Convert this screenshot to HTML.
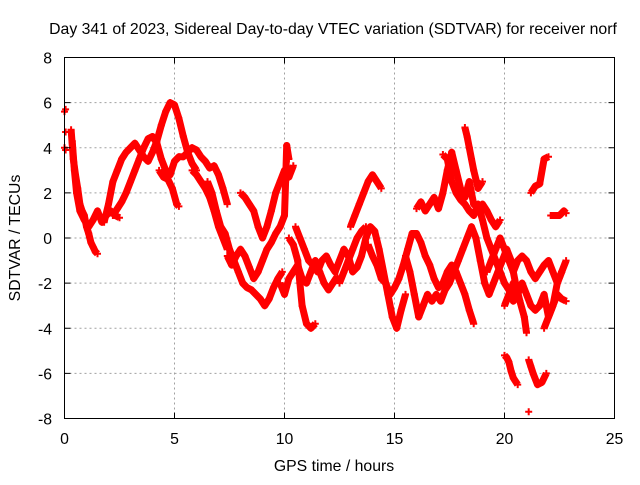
<!DOCTYPE html>
<html><head><meta charset="utf-8"><style>
body{margin:0;background:#fff;}
svg text{font-family:"Liberation Sans",sans-serif;font-size:15.8px;fill:#000;}
</style></head><body>
<svg id="chart" width="640" height="480" xmlns="http://www.w3.org/2000/svg">
<rect width="640" height="480" fill="#fff"/>
<g id="grid"></g>
<g id="marks"></g>
<rect x="64.5" y="57.5" width="550" height="361" fill="none" stroke="#000" stroke-width="1"/>
<g id="ticks"></g>
<text x="333" y="34" text-anchor="middle">Day 341 of 2023, Sidereal Day-to-day VTEC variation (SDTVAR) for receiver norf</text>
<text x="334" y="471" text-anchor="middle">GPS time / hours</text>
<text transform="translate(20,238) rotate(-90)" text-anchor="middle">SDTVAR / TECUs</text>
</svg>
<script>
const xTicks=[0,5,10,15,20,25];
const yTicks=[-8,-6,-4,-2,0,2,4,6,8];
const tracks=[
[[0,5.6]],[[0,4.0]],[[0.05,4.7]],[[0.05,5.7]],[[0.05,3.9]],
[[0.3,4.8],[0.4,3.5],[0.5,2.8],[0.6,2.2],[0.7,1.5],[0.8,1.2],[0.9,1.0],[1.0,0.5],[1.1,0.2],[1.2,-0.2],[1.3,-0.4],[1.4,-0.6],[1.5,-0.7]],
[[0.35,4.3],[0.45,3.0],[0.55,2.0],[0.7,1.2],[0.9,0.8],[1.1,0.5],[1.3,0.8],[1.5,1.2],[1.7,0.7],[1.9,1.0],[2.1,1.2],[2.3,1.0],[2.5,0.9]],
[[1.8,0.7],[2.0,1.5],[2.2,2.5],[2.4,3.0],[2.6,3.5],[2.8,3.8],[3.0,4.0],[3.2,4.2],[3.4,3.9],[3.6,3.6],[3.8,3.4],[4.0,3.8],[4.2,4.3],[4.4,5.0],[4.6,5.6],[4.8,6.0],[5.0,5.9],[5.2,5.3],[5.4,4.5],[5.6,3.8],[5.8,3.3],[6.0,3.0]],
[[2.2,1.0],[2.4,1.3],[2.6,1.6],[2.8,2.0],[3.0,2.5],[3.2,3.0],[3.4,3.5],[3.6,4.0],[3.8,4.4],[4.0,4.5],[4.2,4.2],[4.4,3.5],[4.6,3.0],[4.8,2.8],[5.0,3.4],[5.2,3.6],[5.4,3.6],[5.6,3.8],[5.8,4.0],[6.0,3.9],[6.2,3.6],[6.4,3.4],[6.6,3.1],[6.8,3.2],[7.0,2.8],[7.2,2.2],[7.4,1.5]],
[[4.3,3.0],[4.5,2.7],[4.7,2.6],[4.9,2.2],[5.1,1.5],[5.2,1.4]],
[[5.8,3.0],[6.0,2.8],[6.2,2.5],[6.4,2.2],[6.6,1.8],[6.8,1.2],[7.0,0.5],[7.2,0.0],[7.4,-0.5]],
[[6.5,2.5],[6.7,2.0],[6.9,1.2],[7.1,0.5],[7.3,0.2],[7.5,-0.5],[7.7,-1.0],[7.9,-1.5],[8.1,-2.0],[8.3,-2.2],[8.5,-2.3],[8.7,-2.5],[8.9,-2.7],[9.1,-3.0],[9.3,-2.7],[9.5,-2.2],[9.7,-1.8],[9.9,-1.5]],
[[7.4,-0.8],[7.6,-1.2],[7.8,-0.8],[8.0,-0.5],[8.2,-0.8],[8.4,-1.3],[8.6,-1.8],[8.8,-1.5],[9.0,-1.0],[9.2,-0.5],[9.4,-0.2],[9.6,0.2],[9.8,0.5],[10.0,1.0],[10.05,2.5],[10.1,4.1],[10.2,3.5]],
[[8.0,2.0],[8.2,1.8],[8.4,1.5],[8.6,1.2],[8.8,0.5],[9.0,0.0],[9.2,0.5],[9.4,1.2],[9.6,2.0],[9.8,2.5],[10.0,3.0],[10.2,2.7],[10.4,3.2]],
[[9.8,-2.0],[10.0,-2.5],[10.2,-1.8],[10.4,-1.5],[10.6,-1.2],[10.8,-1.8],[11.0,-2.0],[11.2,-1.5],[11.4,-1.0],[11.6,-1.5],[11.8,-2.0],[12.0,-2.3],[12.2,-2.0],[12.4,-1.7]],
[[10.2,0.0],[10.4,-0.3],[10.6,-1.0],[10.7,-2.0],[10.8,-3.0],[11.0,-3.8],[11.2,-4.0],[11.4,-3.8]],
[[10.5,0.5],[10.7,0.0],[10.9,-0.5],[11.1,-1.0],[11.3,-1.2],[11.5,-1.5],[11.7,-1.0],[11.9,-0.8],[12.1,-1.2],[12.3,-1.5],[12.5,-1.0],[12.7,-0.5],[12.9,-0.8],[13.1,-1.5],[13.3,-1.3],[13.5,-0.8],[13.7,0.0],[13.9,0.5],[14.1,0.3],[14.3,-0.5],[14.5,-1.5],[14.7,-2.5],[14.9,-3.5],[15.1,-4.0],[15.3,-3.2],[15.5,-2.5]],
[[12.5,-2.0],[12.7,-1.5],[12.9,-1.0],[13.1,-0.5],[13.3,0.0],[13.5,0.3],[13.7,0.5]],
[[13.0,0.5],[13.2,1.0],[13.4,1.5],[13.6,2.0],[13.8,2.5],[14.0,2.8],[14.2,2.5],[14.4,2.2]],
[[13.8,-0.3],[14.0,-0.8],[14.2,-1.2],[14.4,-1.8],[14.6,-2.0],[14.8,-2.5],[15.0,-2.2],[15.2,-1.8],[15.4,-1.2],[15.6,-0.5],[15.8,0.2],[16.0,0.2],[16.2,-0.2],[16.4,-0.8],[16.6,-1.2],[16.8,-1.8],[17.0,-2.2],[17.2,-2.0],[17.4,-1.5],[17.6,-1.2],[17.8,-1.5],[18.0,-2.0],[18.2,-2.5],[18.4,-3.2],[18.6,-3.8]],
[[15.5,-0.8],[15.7,-1.5],[15.9,-2.5],[16.1,-3.5],[16.3,-3.0],[16.5,-2.5],[16.7,-2.8],[16.9,-2.5],[17.1,-2.8],[17.3,-2.3],[17.5,-2.0],[17.7,-1.5],[17.9,-1.0],[18.1,-0.5],[18.3,0.0],[18.5,0.5],[18.7,0.0],[18.9,-1.0],[19.1,-2.0],[19.3,-2.5],[19.5,-2.0],[19.7,-1.5],[19.9,-1.0],[20.1,-0.5],[20.3,-1.0],[20.5,-2.0],[20.7,-2.8],[20.9,-3.5],[21.0,-4.2]],
[[16.0,1.3],[16.2,1.6],[16.4,1.2],[16.6,1.5],[16.8,1.8],[17.0,1.3],[17.2,2.0],[17.4,3.0],[17.6,3.8],[17.8,3.0],[18.0,2.2],[18.2,1.8],[18.4,2.5],[18.6,1.5],[18.8,1.3],[19.0,1.5],[19.2,1.2],[19.4,0.8],[19.6,0.5],[19.8,0.8]],
[[17.2,3.7],[17.4,3.5],[17.6,2.5],[17.8,2.0],[18.0,1.7],[18.2,1.5],[18.4,1.2],[18.6,1.0],[18.8,1.5],[19.0,0.8],[19.2,0.0],[19.4,-0.5],[19.6,-1.0],[19.8,-1.5],[20.0,-2.0],[20.2,-2.3],[20.4,-2.8],[20.6,-2.5]],
[[18.2,4.9],[18.3,4.5],[18.4,4.0],[18.5,3.5],[18.6,3.0],[18.8,2.2],[19.0,2.5]],
[[19.2,-1.5],[19.4,-1.0],[19.6,-0.5],[19.8,0.0],[20.0,-0.5],[20.2,-1.0],[20.4,-1.5],[20.6,-1.0],[20.8,-0.8],[21.0,-1.0],[21.2,-1.5],[21.4,-1.8],[21.6,-1.5],[21.8,-1.2],[22.0,-1.0],[22.2,-1.5],[22.4,-2.0],[22.6,-1.5],[22.8,-1.0]],
[[20.0,-3.0],[20.2,-2.5],[20.4,-2.0],[20.6,-2.5],[20.8,-2.0],[21.0,-2.5],[21.2,-3.0],[21.4,-3.2],[21.6,-3.0],[21.8,-2.5],[22.0,-3.5],[22.2,-3.0],[22.4,-2.5],[22.6,-2.7],[22.8,-2.8]],
[[20.0,-5.2],[20.1,-5.3],[20.2,-5.5],[20.3,-5.9],[20.4,-6.2],[20.6,-6.5]],
[[21.1,-5.4],[21.2,-5.7],[21.3,-6.0],[21.5,-6.5],[21.7,-6.4],[21.9,-6.0]],
[[21.1,-7.7]],
[[21.2,2.0],[21.4,2.3],[21.6,2.4],[21.8,3.5],[22.0,3.6]],
[[22.1,1.0],[22.3,1.0],[22.5,1.0],[22.7,1.2],[22.8,1.1]],
[[21.8,-4.0],[22.0,-3.5],[22.2,-3.0],[22.4,-2.0],[22.6,-1.5]]
];
const NS='http://www.w3.org/2000/svg';
const X0=64.5,X1=614.5,Y0=418.5,Y1=57.5;
function sx(v){return X0+(v-0)/(25-0)*(X1-X0);}
function sy(v){return Y0-(v+8)/16*(Y0-Y1);}
const grid=document.getElementById('grid'),tk=document.getElementById('ticks'),marks=document.getElementById('marks');
function mk(tag,attrs,parent){const e=document.createElementNS(NS,tag);for(const k in attrs)e.setAttribute(k,attrs[k]);parent.appendChild(e);return e;}
xTicks.forEach(v=>{
 const x=sx(v);
 if(v>0&&v<25){const g=mk('line',{x1:x,x2:x,y1:Y1,y2:Y0,stroke:'#a0a0a0','stroke-dasharray':'2,3'},grid);
 
 }
 mk('line',{x1:x,x2:x,y1:Y0,y2:Y0-6,stroke:'#000'},tk);mk('line',{x1:x,x2:x,y1:Y1,y2:Y1+6,stroke:'#000'},tk);
 const t=mk('text',{x:x,y:444,'text-anchor':'middle'},tk);t.textContent=v;
 
 
});
yTicks.forEach(v=>{
 const y=sy(v);
 if(v>-8&&v<8){const g=mk('line',{x1:X0,x2:X1,y1:y,y2:y,stroke:'#a0a0a0','stroke-dasharray':'2,3'},grid);
 
 }
 mk('line',{x1:X0,x2:X0+6,y1:y,y2:y,stroke:'#000'},tk);mk('line',{x1:X1,x2:X1-6,y1:y,y2:y,stroke:'#000'},tk);
 const t=mk('text',{x:52,y:y+6,'text-anchor':'end'},tk);t.textContent=v;
 
 
});
tracks.forEach(tr=>{
 if(tr.length>1){
  const pts=tr.map(p=>sx(p[0])+','+sy(p[1])).join(' ');
  const pl=mk('polyline',{points:pts,stroke:'#f00','stroke-width':7,fill:'none','stroke-linejoin':'round'},marks);
  
  
 }
 let d='';
 tr.forEach(p=>{const x=sx(p[0]),y=sy(p[1]);d+=`M${x-3.5},${y}h7M${x},${y-3.5}v7`;});
 const pth=mk('path',{d:d,stroke:'#f00','stroke-width':2,fill:'none'},marks);
 
 
});
</script>
</body></html>
